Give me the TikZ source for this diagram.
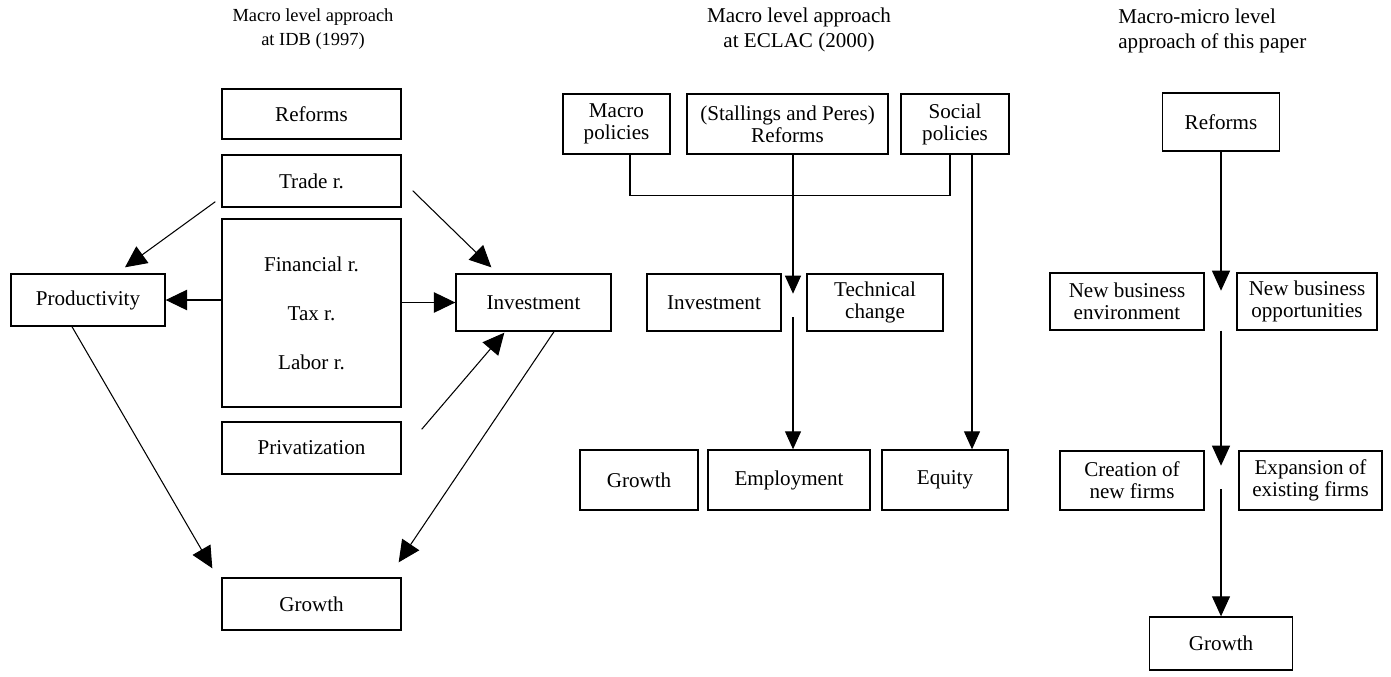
\documentclass[tikz,border=0pt]{standalone}
\usepackage{fontspec}
\setmainfont{Liberation Serif}
\usetikzlibrary{arrows.meta,calc}
\begin{document}
\begin{tikzpicture}[x=0.02cm,y=-0.02cm,
  box/.style={draw,line width=0.8pt,inner sep=0pt,align=center,font=\fontsize{12}{12.5}\selectfont},
  conn/.style={line width=0.6pt},
  arrA/.style={conn,-{Triangle[length=0.43cm,width=0.41cm]}},
  arrB/.style={conn,-{Triangle[length=0.36cm,width=0.32cm]}},
  arrC/.style={conn,-{Triangle[length=0.40cm,width=0.36cm]}},
  ttl/.style={inner sep=0pt,align=center,font=\fontsize{12}{14.2}\selectfont}
]
\useasboundingbox (0,0) rectangle (1391,676);

% ---------- titles ----------
\node[ttl,anchor=north,font=\fontsize{10.5}{13.6}\selectfont] (t1) at (313,8) {Macro level approach\\at IDB (1997)};
\node[ttl,anchor=north] (t2) at (799,8) {Macro level approach\\at ECLAC (2000)};
\node[ttl,anchor=north west,align=left] (t3) at (1118,9) {Macro-micro level\\approach of this paper};

% ---------- panel 1 ----------
\node[box,minimum width=3.58cm,minimum height=1.00cm] (ref1) at (311.5,114) {Reforms};
\node[box,minimum width=3.58cm,minimum height=1.04cm] (trade) at (311.5,181) {Trade r.};
\node[box,minimum width=3.58cm,minimum height=3.76cm,font=\fontsize{12}{27.8}\selectfont] (fin) at (311.5,313) {Financial r.\\Tax r.\\Labor r.};
\node[box,minimum width=3.58cm,minimum height=1.04cm] (priv) at (311.5,448) {Privatization};
\node[box,minimum width=3.58cm,minimum height=1.04cm] (gro1) at (311.5,604) {Growth};
\node[box,minimum width=3.08cm,minimum height=1.04cm] (prod) at (88,300) {Productivity};
\node[box,minimum width=3.10cm,minimum height=1.14cm] (inv1) at (533.5,302.5) {Investment};

\coordinate (a1s) at ($(trade.south west)+(-6,-6)$);
\coordinate (a1e) at ($(prod.north)+(37,-6)$);
\draw[arrA] (a1s) -- (a1e);
\coordinate (a2s) at ($(trade.south east)+(11,-17)$);
\coordinate (a2e) at ($(inv1.north west)+(36,-6)$);
\draw[arrA] (a2s) -- (a2e);
\draw[arrA] (fin.west |- prod.east) -- (prod.east);
\draw[arrA] (fin.east |- inv1.west) -- (inv1.west);
\coordinate (a3s) at ($(priv.north east)+(20,8)$);
\coordinate (a3e) at ($(inv1.south west)+(49,1)$);
\draw[arrA] (a3s) -- (a3e);
\coordinate (a4s) at ($(prod.south)+(-16,0)$);
\coordinate (a4e) at ($(gro1.north west)+(-9,-9)$);
\draw[arrA] (a4s) -- (a4e);
\coordinate (a5s) at ($(inv1.south)+(20.5,0)$);
\coordinate (a5e) at ($(gro1.north east)+(-3,-15)$);
\draw[arrA] (a5s) -- (a5e);

% ---------- panel 2 ----------
\node[box,minimum width=2.14cm,minimum height=1.2cm] (mp) at (616.5,124) {Macro\\policies};
\node[box,minimum width=4.02cm,minimum height=1.2cm] (sp) at (787.5,124) {(Stallings and Peres)\\Reforms};
\node[box,minimum width=2.16cm,minimum height=1.2cm] (soc) at (955,124) {Social\\policies};
\node[box,minimum width=2.68cm,minimum height=1.14cm] (inv2) at (714,302.5) {Investment};
\node[box,minimum width=2.72cm,minimum height=1.14cm] (tech) at (875,302.5) {Technical\\change};
\node[box,minimum width=2.36cm,minimum height=1.2cm] (gro2) at (639,480) {Growth};
\node[box,minimum width=3.24cm,minimum height=1.2cm] (emp) at (789,480) {Employment};
\node[box,minimum width=2.52cm,minimum height=1.2cm] (equ) at (945,480) {Equity};

\draw[conn] ($(mp.south)+(13.5,0)$) -- ++(0,41) -| ($(soc.south)+(-5,0)$);
\draw[arrB] ($(sp.south)+(5.5,0)$) -- ++(0,139);
\draw[arrB] ($(emp.north)+(4,-132)$) -- ($(emp.north)+(4,0)$);
\coordinate (s1) at ($(soc.south)+(17,0)$);
\draw[arrB] (s1) -- (s1 |- equ.north);

% ---------- panel 3 ----------
\node[box,minimum width=2.34cm,minimum height=1.16cm] (ref3) at (1221,122) {Reforms};
\node[box,minimum width=3.08cm,minimum height=1.14cm] (nbe) at (1127,301.5) {New business\\environment};
\node[box,minimum width=2.80cm,minimum height=1.14cm] (nbo) at (1307,301.5) {New business\\opportunities};
\node[box,minimum width=2.88cm,minimum height=1.18cm] (cnf) at (1132,480.5) {Creation of\\new firms};
\node[box,minimum width=2.86cm,minimum height=1.18cm] (eef) at (1310.5,480.5) {Expansion of\\existing firms};
\node[box,minimum width=2.86cm,minimum height=1.06cm] (gro3) at (1221,643.5) {Growth};

\draw[arrC] (ref3.south) -- ++(0,139);
\draw[arrC] ($(ref3.south)+(0,179)$) -- ($(ref3.south)+(0,314)$);
\draw[arrC] ($(gro3.north)+(0,-127)$) -- (gro3.north);
\end{tikzpicture}
\end{document}
